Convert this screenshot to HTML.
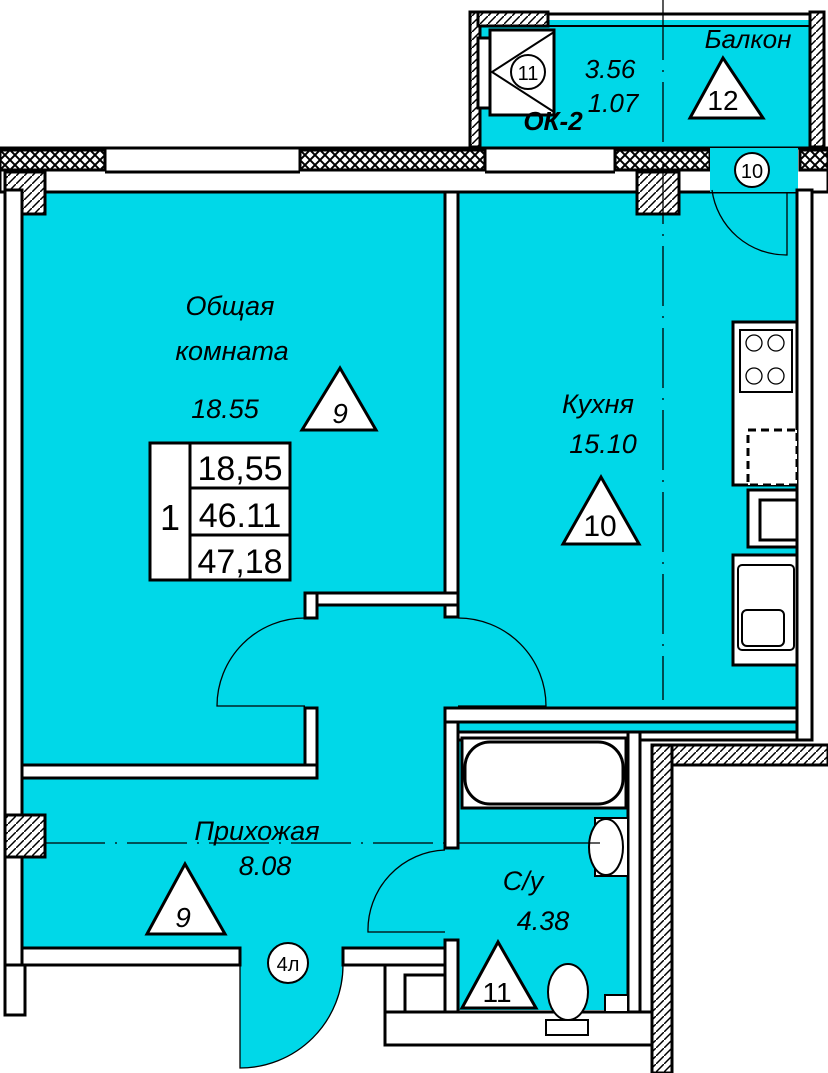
<!DOCTYPE html>
<html><head><meta charset="utf-8"><style>
html,body{margin:0;padding:0;background:#fff;width:828px;height:1073px;overflow:hidden}
svg{display:block}
text{font-family:"Liberation Sans",sans-serif;font-style:italic;fill:#000}
</style></head><body>
<svg width="828" height="1073" viewBox="0 0 828 1073" xmlns="http://www.w3.org/2000/svg">
<defs>
<pattern id="x" width="10" height="10" patternUnits="userSpaceOnUse">
<rect width="10" height="10" fill="#fff"/><path d="M0 0L10 10M10 0L0 10" stroke="#000" stroke-width="2"/></pattern>
<pattern id="h" width="8" height="8" patternUnits="userSpaceOnUse">
<rect width="8" height="8" fill="#fff"/><path d="M0 8L8 0" stroke="#000" stroke-width="1.5"/></pattern>
</defs>
<g fill="#00d8e8">
<rect x="22" y="190" width="775" height="820"/>
<rect x="478" y="20" width="340" height="127"/>
</g>
<!-- white zones -->
<rect x="640" y="740" width="188" height="333" fill="#fff"/>
<rect x="0" y="965" width="445" height="108" fill="#fff"/>
<rect x="343" y="1012" width="297" height="61" fill="#fff"/>
<path d="M240 965 L240 1068 A103 103 0 0 0 343 965 Z" fill="#00d8e8"/>
<g stroke="#000" stroke-width="3" fill="#fff">
<!-- balcony -->
<rect x="470" y="12" width="10" height="135" fill="url(#h)"/>
<rect x="810" y="12" width="14" height="135" fill="url(#h)"/>
<rect x="478" y="12" width="70" height="14" fill="url(#h)"/>
<line x1="548" y1="14" x2="810" y2="14"/><line x1="548" y1="26" x2="810" y2="26" stroke-width="2"/>
<rect x="478" y="38" width="14" height="70"/>
<rect x="490" y="30" width="64" height="85"/>
<path d="M554 32 L492 72 L554 112" fill="none" stroke-width="2"/>
<!-- top wall -->
<rect x="0" y="148" width="828" height="44" stroke-width="3"/>
<rect x="0" y="150" width="105" height="20" fill="url(#x)"/>
<rect x="300" y="150" width="185" height="20" fill="url(#x)"/>
<rect x="615" y="150" width="95" height="20" fill="url(#x)"/>
<rect x="800" y="150" width="28" height="20" fill="url(#x)"/>
<line x1="105" y1="172" x2="300" y2="172"/><line x1="485" y1="172" x2="615" y2="172"/>
<rect x="710" y="148" width="88" height="44" fill="#00d8e8" stroke="none"/>
<rect x="5" y="172" width="40" height="42" fill="url(#h)"/>
<rect x="637" y="172" width="42" height="42" fill="url(#h)"/>
<!-- left wall -->
<rect x="5" y="190" width="17" height="780"/>
<rect x="5" y="815" width="40" height="42" fill="url(#h)"/>
<!-- right kitchen wall -->
<rect x="797" y="190" width="15" height="550"/>
<!-- living/kitchen wall -->
<rect x="445" y="192" width="13" height="425"/>
<rect x="305" y="593" width="153" height="12"/>
<rect x="305" y="593" width="12" height="25"/>
<rect x="305" y="708" width="12" height="70"/>
<rect x="22" y="765" width="295" height="13"/>
<rect x="445" y="708" width="13" height="140"/>
<rect x="445" y="708" width="352" height="14"/>
<!-- bath walls -->
<rect x="458" y="732" width="170" height="8"/>
<rect x="628" y="732" width="12" height="280"/>
<rect x="640" y="732" width="157" height="8"/>
<rect x="652" y="745" width="176" height="20" fill="url(#h)"/>
<rect x="652" y="745" width="20" height="328" fill="url(#h)"/>
<rect x="445" y="940" width="13" height="80"/>
<!-- bottom walls -->
<rect x="22" y="948" width="218" height="17"/>
<rect x="5" y="965" width="20" height="50"/>
<rect x="343" y="948" width="102" height="17"/>
<rect x="385" y="965" width="60" height="80"/>
<rect x="405" y="975" width="40" height="60"/>
<rect x="385" y="1012" width="267" height="33"/>
<!-- bathtub -->
<rect x="462" y="738" width="164" height="70"/>
<rect x="465" y="742" width="158" height="62" rx="25"/>
<!-- sink -->
<rect x="595" y="818" width="33" height="58" stroke-width="2"/>
<ellipse cx="606" cy="847" rx="17" ry="28" stroke-width="2"/>
<!-- toilet -->
<ellipse cx="568" cy="992" rx="20" ry="28" stroke-width="2"/>
<rect x="546" y="1020" width="42" height="15" stroke-width="2"/>
<rect x="605" y="995" width="23" height="17" stroke-width="2"/>
<!-- kitchen -->
<rect x="733" y="322" width="64" height="163"/>
<rect x="740" y="330" width="52" height="62" stroke-width="2"/>
<rect x="748" y="430" width="49" height="55" stroke-dasharray="8 5"/>
<rect x="748" y="490" width="49" height="57"/>
<rect x="760" y="500" width="37" height="40"/>
<rect x="733" y="555" width="64" height="110"/>
<rect x="738" y="565" width="56" height="85" rx="4" stroke-width="2"/>
<rect x="742" y="610" width="42" height="36" rx="5" stroke-width="2"/>
<!-- table -->
<rect x="150" y="443" width="140" height="137" stroke-width="3"/>
<rect x="190" y="443" width="100" height="137"/>
<line x1="190" y1="488" x2="290" y2="488"/><line x1="190" y1="535" x2="290" y2="535"/>
<!-- triangles -->
<polygon points="723,58 690,118 763,118"/>
<polygon points="340,368 302,430 376,430"/>
<polygon points="601,477 563,544 639,544"/>
<polygon points="185,864 147,934 225,934"/>
<polygon points="498,942 462,1008 536,1008"/>
<circle cx="528" cy="72" r="17" stroke-width="2"/>
<circle cx="752" cy="170" r="17" stroke-width="2"/>
<circle cx="288" cy="963" r="20" stroke-width="2"/>
</g>
<g fill="none" stroke="#000" stroke-width="1.3">
<circle cx="754" cy="343" r="8"/><circle cx="776" cy="343" r="8"/><circle cx="754" cy="376" r="8"/><circle cx="776" cy="376" r="8"/>
<path d="M305 618 A88 88 0 0 0 217 706 L305 706"/>
<path d="M458 618 A88 88 0 0 1 546 706 L458 706"/>
<path d="M445 850 A80 80 0 0 0 368 932 L445 932"/>
<path d="M240 965 L240 1068 A103 103 0 0 0 343 965"/>
<path d="M712 190 A75 75 0 0 0 787 255 L787 192"/>
<line x1="663" y1="0" x2="663" y2="700" stroke-dasharray="60 10 2 10"/>
<line x1="45" y1="843" x2="445" y2="843" stroke-dasharray="60 10 2 10"/>
<line x1="458" y1="843" x2="600" y2="843"/>
</g>
<text x="230" y="315" font-size="27" text-anchor="middle">Общая</text>
<text x="232" y="360" font-size="27" text-anchor="middle">комната</text>
<text x="225" y="418" font-size="27" text-anchor="middle">18.55</text>
<text x="598" y="413" font-size="27" text-anchor="middle">Кухня</text>
<text x="603" y="453" font-size="27" text-anchor="middle">15.10</text>
<text x="257" y="840" font-size="27" text-anchor="middle">Прихожая</text>
<text x="265" y="875" font-size="27" text-anchor="middle">8.08</text>
<text x="523" y="890" font-size="27" text-anchor="middle">С/у</text>
<text x="543" y="930" font-size="27" text-anchor="middle">4.38</text>
<text x="748" y="48" font-size="26" text-anchor="middle">Балкон</text>
<text x="610" y="78" font-size="26" text-anchor="middle">3.56</text>
<text x="613" y="112" font-size="26" text-anchor="middle">1.07</text>
<text x="553" y="130" font-size="26" text-anchor="middle" font-weight="bold">ОК-2</text>
<g text-anchor="middle">
<text x="723" y="110" font-size="28" style="font-style:normal">12</text>
<text x="340" y="423" font-size="28" style="font-style:italic">9</text>
<text x="600" y="536" font-size="30" style="font-style:normal">10</text>
<text x="183" y="927" font-size="28" style="font-style:italic">9</text>
<text x="497" y="1002" font-size="28" style="font-style:normal">11</text>
<text x="528" y="80" font-size="20" style="font-style:normal">11</text>
<text x="752" y="178" font-size="20" style="font-style:normal">10</text>
<text x="288" y="971" font-size="20" style="font-style:normal">4л</text>
<text x="170" y="530" font-size="36" style="font-style:normal">1</text>
<text x="240" y="480" font-size="34" style="font-style:normal">18,55</text>
<text x="240" y="527" font-size="34" style="font-style:normal">46.11</text>
<text x="240" y="573" font-size="34" style="font-style:normal">47,18</text>
</g>
</svg>
</body></html>
